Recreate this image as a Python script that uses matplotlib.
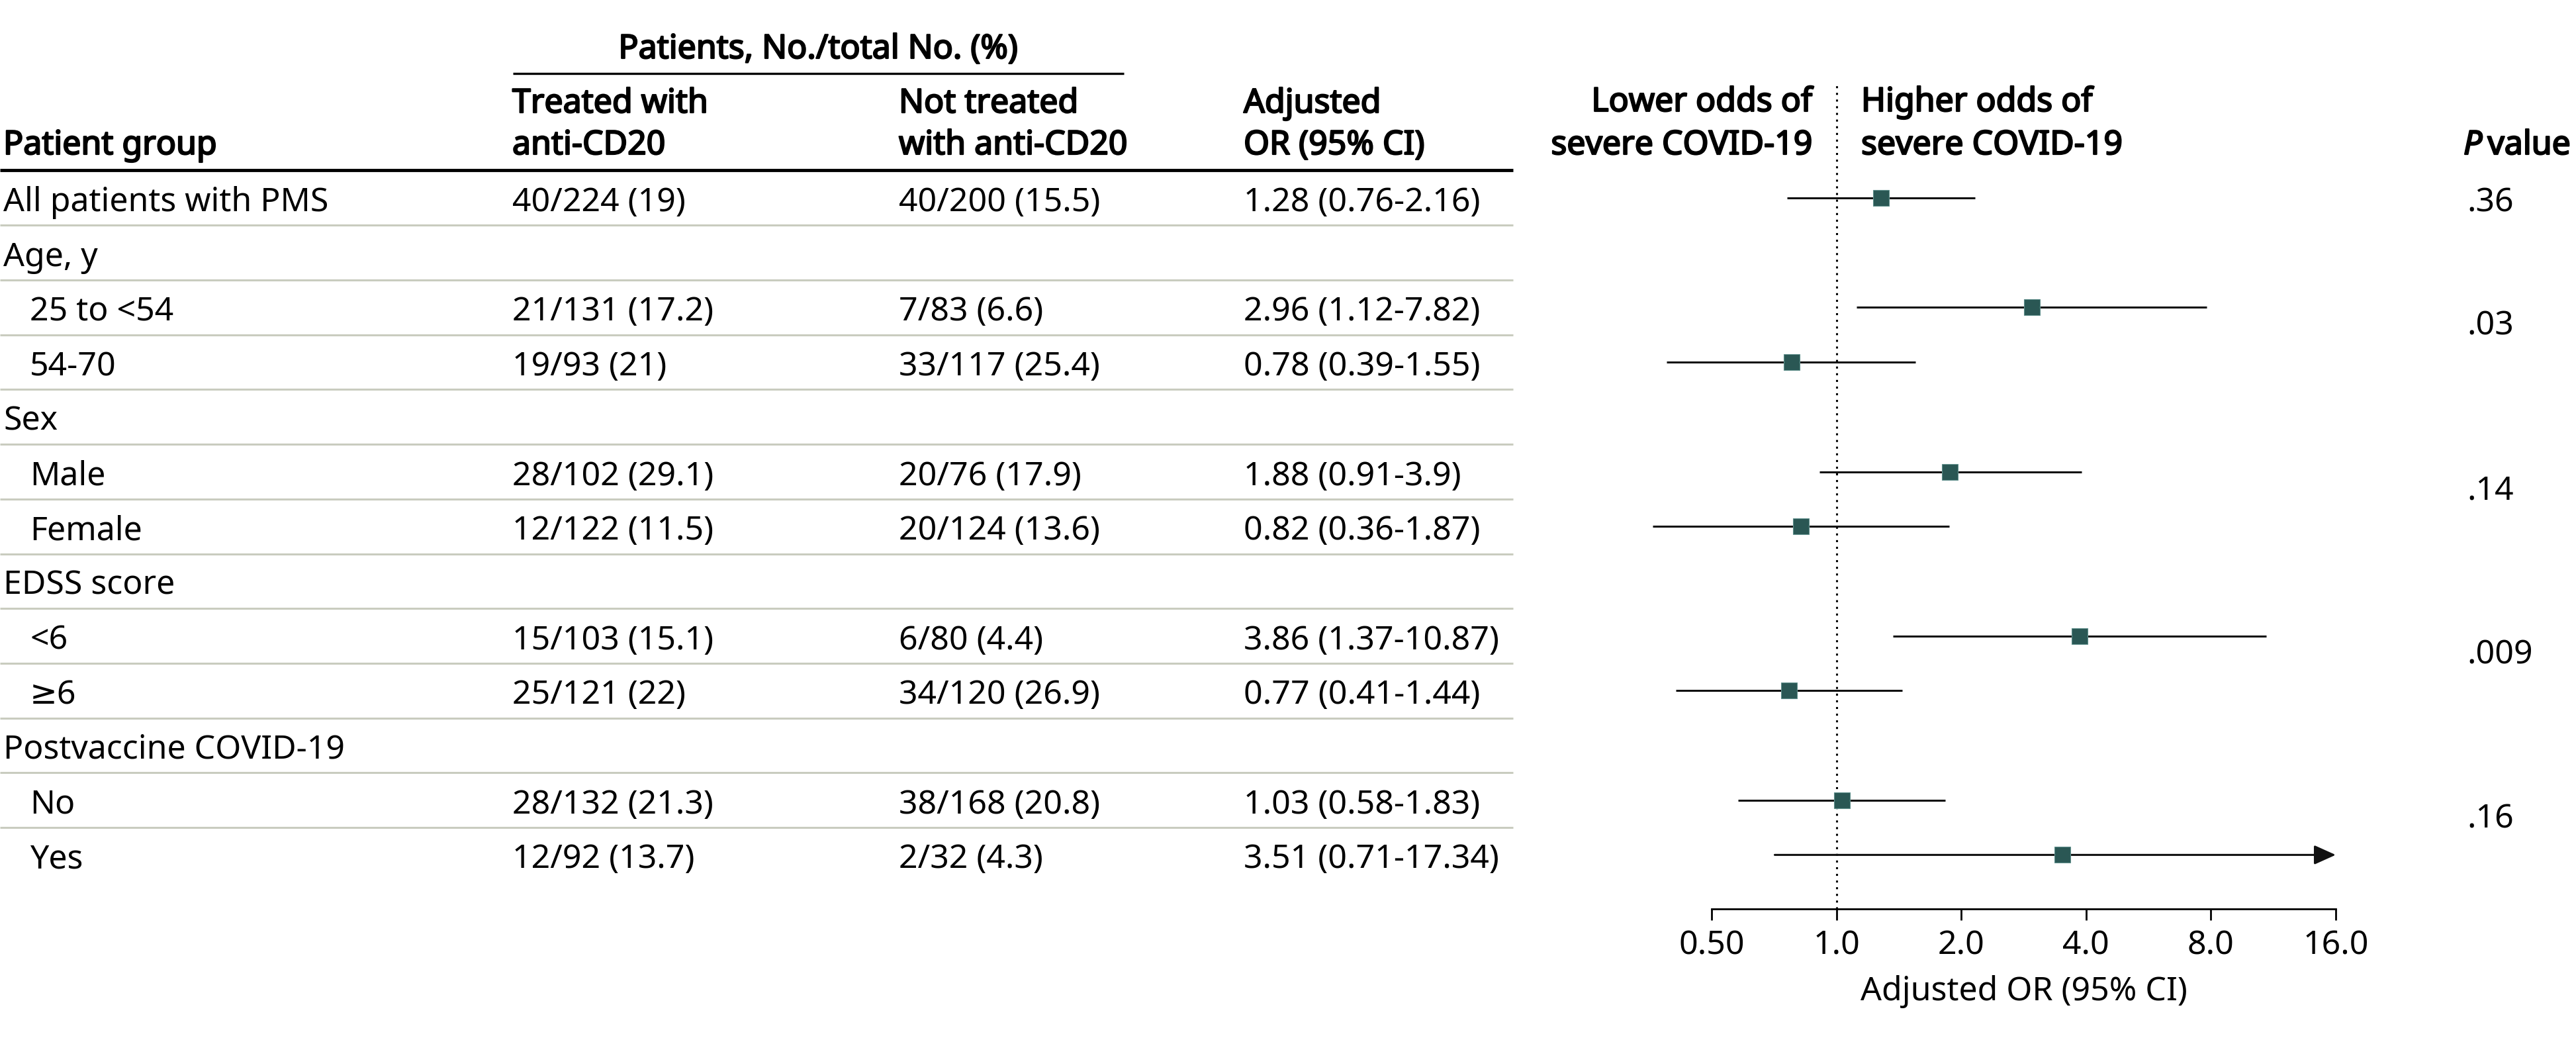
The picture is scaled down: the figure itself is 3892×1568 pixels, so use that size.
import matplotlib
matplotlib.use("Agg")
import matplotlib.pyplot as plt
import matplotlib.patheffects as pe
import numpy as np

plt.rcParams['font.family'] = ['Noto Sans', 'DejaVu Sans']

#DATA=============================================================================
groups = ["All patients with PMS", "Age, y", "25 to <54", "54-70", "Sex", "Male", "Female",
          "EDSS score", "<6", "≥6", "Postvaccine COVID-19", "No", "Yes"]
indent = [0, 0, 1, 1, 0, 1, 1, 0, 1, 1, 0, 1, 1]
treated = ["40/224 (19)", "", "21/131 (17.2)", "19/93 (21)", "", "28/102 (29.1)", "12/122 (11.5)",
           "", "15/103 (15.1)", "25/121 (22)", "", "28/132 (21.3)", "12/92 (13.7)"]
not_treated = ["40/200 (15.5)", "", "7/83 (6.6)", "33/117 (25.4)", "", "20/76 (17.9)", "20/124 (13.6)",
               "", "6/80 (4.4)", "34/120 (26.9)", "", "38/168 (20.8)", "2/32 (4.3)"]
or_labels = ["1.28 (0.76-2.16)", "", "2.96 (1.12-7.82)", "0.78 (0.39-1.55)", "", "1.88 (0.91-3.9)",
             "0.82 (0.36-1.87)", "", "3.86 (1.37-10.87)", "0.77 (0.41-1.44)", "", "1.03 (0.58-1.83)",
             "3.51 (0.71-17.34)"]
# rows that have an estimate
est_rows = [0, 2, 3, 5, 6, 8, 9, 11, 12]
or_est = [1.28, 2.96, 0.78, 1.88, 0.82, 3.86, 0.77, 1.03, 3.51]
ci_lo = [0.76, 1.12, 0.39, 0.91, 0.36, 1.37, 0.41, 0.58, 0.71]
ci_hi = [2.16, 7.82, 1.55, 3.9, 1.87, 10.87, 1.44, 1.83, 17.34]
p_values = [".36", ".03", ".14", ".009", ".16"]
p_rows = [0, 2.26, 5.26, 8.26, 11.26]
xticks = [0.5, 1, 2, 4, 8, 16]
xtick_labels = ["0.50", "1.0", "2.0", "4.0", "8.0", "16.0"]
#DATA=============================================================================

W, H = 3892, 1568
FS = 36
row0 = 319      # baseline of first row, px
pitch = 82.7
marker_col = '#2a5754'
# headers are a medium weight in the original, fake it with a thin stroke
med = [pe.withStroke(linewidth=1.6, foreground='black')]

fig = plt.figure(figsize=(W / 100, H / 100), dpi=100)

# background axes in pixel coordinates for the table part
bg = fig.add_axes([0, 0, 1, 1])
bg.set_xlim(0, W)
bg.set_ylim(H, 0)
bg.axis('off')

def base(i):
    return row0 + i * pitch

def head(x, y, s, **kw):
    return bg.text(x, y, s, fontsize=FS, va='baseline', path_effects=med, **kw)

# header
head(1236, 88, "Patients, No./total No. (%)", ha='center')
bg.plot([775, 1698], [111, 111], color='black', lw=2.4, solid_capstyle='butt')
head(5, 233, "Patient group")
head(774, 170, "Treated with")
head(774, 233, "anti-CD20")
head(1358, 170, "Not treated")
head(1358, 233, "with anti-CD20")
head(1879, 170, "Adjusted")
head(1879, 233, "OR (95% CI)")
head(2738, 168, "Lower odds of", ha='right')
head(2738, 233, "severe COVID-19", ha='right')
head(2812, 168, "Higher odds of")
head(2812, 233, "severe COVID-19")

# "P value" with italic P
renderer = fig.canvas.get_renderer()
tp = head(3722, 233, "P", fontstyle='italic')
ext = tp.get_window_extent(renderer)
head(3722 + ext.width + 8, 233, "value")

bg.plot([0, 2286], [257, 257], color='black', lw=3.5, solid_capstyle='butt')

# table rows
for i, g in enumerate(groups):
    y = base(i)
    bg.text(5 + 40 * indent[i], y, g, fontsize=FS, va='baseline')
    bg.text(774, y, treated[i], fontsize=FS, va='baseline')
    bg.text(1358, y, not_treated[i], fontsize=FS, va='baseline')
    bg.text(1879, y, or_labels[i], fontsize=FS, va='baseline')
    if i < len(groups) - 1:
        ly = base(i) - 20 + pitch / 2
        bg.plot([0, 2286], [ly, ly], color='#c9ccbf', lw=2.2, solid_capstyle='butt')

for p, r in zip(p_values, p_rows):
    bg.text(3727, base(r), p, fontsize=FS, va='baseline')

# forest plot axes, y in the same pixel units
x0, x1 = 2586, 3529
ybot, ytop = 1373, 129
ax = fig.add_axes([x0 / W, 1 - ybot / H, (x1 - x0) / W, (ybot - ytop) / H])
ax.set_xscale('log', base=2)
ax.set_xlim(0.5, 16)
ax.set_ylim(ybot, ytop)
ax.patch.set_alpha(0)
for s in ['top', 'left', 'right']:
    ax.spines[s].set_visible(False)
ax.spines['bottom'].set_linewidth(2)
ax.set_yticks([])
ax.set_xticks(xticks)
ax.set_xticklabels(xtick_labels, fontsize=FS)
ax.minorticks_off()
ax.tick_params(axis='x', length=12, width=2, pad=10)
ax.set_xlabel("Adjusted OR (95% CI)", fontsize=FS, labelpad=14)

ax.axvline(1, color='black', lw=2.2, ls=(0, (1, 2.3)), zorder=1)

xmax = xticks[-1]
for r, e, lo, hi in zip(est_rows, or_est, ci_lo, ci_hi):
    y = base(r) - 20
    if hi > xmax:
        ax.annotate('', xy=(xmax, y), xytext=(lo, y),
                    arrowprops=dict(arrowstyle='-|>,head_length=20,head_width=9', mutation_scale=1,
                                    lw=2.2, color='#111111', shrinkA=0, shrinkB=0), zorder=2)
    else:
        ax.plot([lo, hi], [y, y], color='#111111', lw=2.2, solid_capstyle='butt', zorder=2,
                clip_on=False)
    ax.plot([e], [y], marker='s', markersize=17.3, color=marker_col, markeredgecolor='#5f8f8b',
            markeredgewidth=0.8, zorder=3, clip_on=False)

fig.savefig('out.png', dpi=100)
